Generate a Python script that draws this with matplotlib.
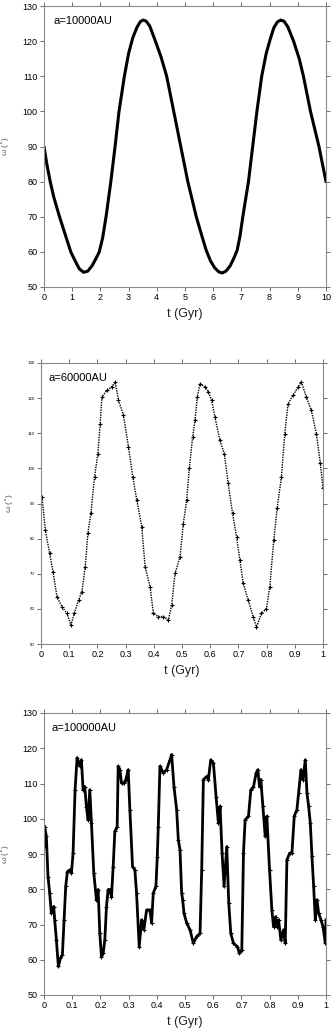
import numpy as np
import matplotlib.pyplot as plt

plt.rcParams['font.family'] = ['Liberation Sans', 'DejaVu Sans']

# a = 10000 AU  (t in Gyr, omega in degrees)
t1 = [0, 0.1, 0.22, 0.35, 0.55, 0.75, 0.95, 1.1, 1.25, 1.4, 1.55, 1.7, 1.85, 1.96,
      2.08, 2.2, 2.37, 2.52, 2.66, 2.85, 3.0, 3.15, 3.3, 3.42, 3.52, 3.62, 3.75,
      3.95, 4.15, 4.35, 4.6, 4.85, 5.1, 5.4, 5.6, 5.75, 5.9, 6.05, 6.2, 6.32, 6.45,
      6.6, 6.75, 6.85, 6.95, 7.05, 7.25, 7.4, 7.55, 7.72, 7.88, 8.02, 8.15, 8.28,
      8.4, 8.52, 8.65, 8.85, 9.05, 9.2, 9.45, 9.75, 10]
w1 = [90, 85, 80, 75.5, 70, 65, 60, 57.5, 55.2, 54.2, 54.5, 56, 58.2, 60,
      64, 70, 80, 90, 100, 110, 116.5, 121, 124, 125.6, 126, 125.7, 124.3,
      120, 115.5, 110, 100, 90, 80, 70, 64.5, 60.5, 57.5, 55.5, 54.3, 54, 54.5,
      56, 58.5, 60.5, 64.5, 70, 80, 90, 100, 110, 116.5, 120.5, 123.8, 125.5,
      126, 125.6, 124, 120, 115, 110, 100, 90, 80]

# a = 60000 AU
x2_px = [125, 135, 148, 158, 170, 185, 200, 212, 222, 235, 245, 255, 263, 272, 283,
         293, 300, 305, 320, 335, 345, 355, 370, 385, 398, 410, 425, 435, 450, 460,
         475, 490, 505, 515, 525, 540, 550, 560, 568, 578, 585, 592, 600, 615, 625,
         635, 645, 660, 673, 685, 698, 710, 720, 730, 745, 760, 770, 785, 800, 810,
         822, 832, 845, 855, 865, 880, 895, 905, 920, 935, 950, 962, 970]
t2 = [(x - 122) / 848 for x in x2_px]
w2 = [91.9, 82.4, 75.8, 70.6, 63.5, 60.6, 58.7, 55.4, 58.7, 62.5, 64.9, 72.0, 81.5,
      87.2, 97.6, 104.2, 112.7, 120.3, 122.2, 123.2, 124.6, 119.4, 115.1, 106.1,
      97.6, 91.0, 83.4, 72.0, 66.3, 58.7, 57.8, 57.8, 56.8, 61.1, 70.1, 74.8, 84.3,
      91.0, 100.0, 109.0, 113.7, 120.3, 124.1, 123.2, 121.8, 119.4, 114.6, 108.0,
      104.2, 95.7, 87.2, 80.5, 73.9, 67.3, 62.5, 57.8, 54.9, 58.7, 60.1, 66.3, 79.6,
      88.6, 97.6, 109.9, 118.4, 120.8, 123.2, 124.6, 120.3, 116.5, 109.9, 101.4, 94.3]

# a = 100000 AU
x3_px = [133, 135, 140, 145, 150, 155, 162, 165, 170, 176, 182, 188, 193, 198, 203,
         210, 215, 220, 226, 232, 240, 245, 250, 255, 260, 265, 270, 275, 282, 290,
         295, 300, 305, 310, 315, 320, 325, 330, 335, 340, 345, 352, 355, 360, 365,
         372, 378, 385, 390, 398, 405, 410, 418, 425, 432, 440, 450, 455, 460, 468,
         472, 475, 480, 490, 500, 510, 515, 522, 530, 535, 540, 545, 548, 552, 560,
         570, 580, 590, 600, 605, 610, 620, 625, 632, 640, 648, 655, 660, 666, 672,
         680, 686, 692, 700, 712, 718, 725, 730, 735, 745, 752, 760, 768, 773, 778,
         782, 788, 795, 800, 808, 815, 820, 826, 830, 835, 842, 850, 855, 860, 868,
         875, 882, 890, 895, 902, 908, 915, 920, 925, 930, 935, 940, 945, 950, 955,
         962, 968, 975, 977]
t3 = [(x - 133) / 844 for x in x3_px]
w3 = [92, 97.8, 95, 83.6, 78.9, 73.2, 75.1, 71.3, 65.7, 58.1, 60.4, 61.4, 71.3, 80.8,
      85, 85.5, 84.6, 90.2, 108.2, 117.3, 114.9, 116.7, 108.2, 109.1, 103.4, 99.7,
      108.2, 98.8, 84.6, 77, 79.9, 67.5, 60.9, 61.8, 65.6, 75.1, 79.9, 79.9, 77.9,
      86.4, 96.4, 97.8, 114.9, 113.9, 110.1, 110.1, 111.1, 113.9, 102.6, 86.4, 85.5,
      78.9, 63.7, 71.3, 68.5, 74.1, 74.1, 70.4, 78.9, 80.8, 89.2, 97.8, 114.9, 113,
      113.9, 116.7, 118.2, 109.1, 102.6, 94, 91.2, 78.9, 77, 73.2, 70.4, 68.5, 64.7,
      66.6, 67.5, 85.5, 111.1, 112, 111.1, 116.7, 115.8, 106.3, 98.8, 103.5, 90.2,
      80.8, 92.1, 76, 67.5, 64.7, 63.7, 61.8, 62.8, 90.2, 99.7, 100.7, 108.2, 109.1,
      113, 113.9, 109.1, 111.1, 103.5, 95, 100.7, 85.5, 74.1, 69.4, 72.2, 69.4, 71.3,
      65.6, 68.5, 64.7, 88.3, 90.2, 90.2, 100.7, 102.6, 107.3, 113.9, 111.1, 116.7,
      107.3, 103.5, 98.8, 89.3, 80.8, 71.3, 77, 73.2, 71.3, 69.4, 64.7, 71.3]

yticks = [50, 60, 70, 80, 90, 100, 110, 120, 130]


def style_ax(ax, xticks, xlabels, tick_fs):
  ax.set_ylim(50, 130)
  ax.set_yticks(yticks)
  ax.set_xticks(xticks)
  ax.set_xticklabels(xlabels)
  for s in ax.spines.values():
    s.set_color('#8a8a8a')
    s.set_linewidth(0.8)
  ax.tick_params(axis='both', which='both', length=3, width=0.6, color='#555555',
                 labelsize=tick_fs, pad=1.5, direction='out')
  ax.tick_params(top=True, right=True, labeltop=False, labelright=False)
  ax.set_xlabel('t (Gyr)', fontsize=9, labelpad=4, color='#222222')
  ax.set_ylabel(r'ω ($^{\circ}$)', fontsize=6, labelpad=8, color='#555555')


W, H = 332, 1032
fig = plt.figure(figsize=(W / 100, H / 100), dpi=100)

ax1 = fig.add_axes([44 / W, 1 - 287 / H, 282 / W, 281 / H])
ax1.plot(t1, w1, color='black', lw=2.2, solid_capstyle='round', solid_joinstyle='round')
ax1.set_xlim(0, 10)
style_ax(ax1, range(0, 11), [str(i) for i in range(0, 11)], 6.5)
ax1.text(0.035, 0.965, 'a=10000AU', transform=ax1.transAxes, fontsize=8,
         va='top', ha='left')

ax2 = fig.add_axes([41 / W, 1 - 644 / H, 282 / W, 281 / H])
ax2.plot(t2, w2, color='black', lw=1.0, ls=(0, (1, 0.8)))
ax2.plot(t2, w2, ls='none', marker='+', ms=3, mew=0.8, color='black')
ax2.set_xlim(0, 1)
xt = [i / 10 for i in range(11)]
xl = ['0'] + ['%.1f' % v for v in xt[1:-1]] + ['1']
style_ax(ax2, xt, xl, 6.5)
ax2.tick_params(axis='y', labelsize=3.2)
ax2.text(0.025, 0.965, 'a=60000AU', transform=ax2.transAxes, fontsize=8,
         va='top', ha='left')

ax3 = fig.add_axes([44 / W, 1 - 995 / H, 282 / W, 282 / H])
ax3.plot(t3, w3, color='black', lw=2.0, solid_joinstyle='round')
ax3.plot(t3, w3, ls='none', marker='+', ms=3, mew=0.8, color='black')
ax3.set_xlim(0, 1)
style_ax(ax3, xt, xl, 6.5)
ax3.text(0.025, 0.965, 'a=100000AU', transform=ax3.transAxes, fontsize=8,
         va='top', ha='left')

fig.savefig('out.png', dpi=100)
